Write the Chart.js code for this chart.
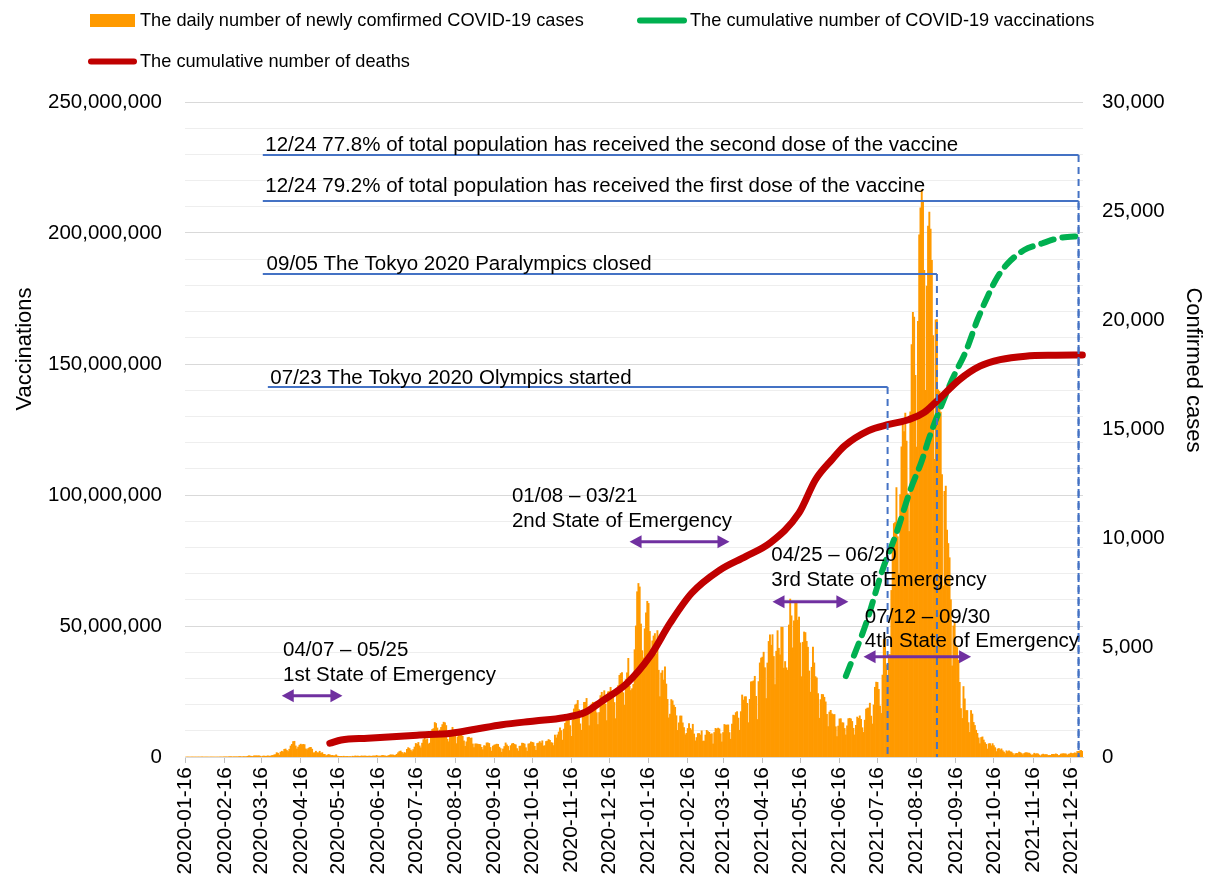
<!DOCTYPE html>
<html><head><meta charset="utf-8">
<script src="https://cdn.jsdelivr.net/npm/chart.js@4.4.0/dist/chart.umd.min.js"></script>
<style>html,body{margin:0;padding:0;background:#fff;}#wrap{position:relative;width:1207px;height:874px;}</style>
</head><body><div id="wrap"><canvas id="c" width="1207" height="874"></canvas></div>
<script>
// ---------------- DATA ----------------
const START_DATE = '2020-01-16';
const cases2020Jan = [1,0,0,0,0,0,0,1,1,0,2,1,0,4,1,2];
const cases2020Feb = [0,0,1,0,1,0,2,0,0,1,0,3,1,1,8,5,6,5,12,12,15,6,14,7,12,10,17,24,12];
const cases2020Mar = [14,21,11,20,33,56,42,35,26,52,52,55,50,59,40,15,40,44,35,39,53,39,39,66,71,96,112,200,173,88,220];
const cases2020Apr = [266,235,350,367,302,251,356,505,579,707,720,508,367,457,543,589,560,580,567,373,336,393,434,441,360,191,199,265,198,195];
const cases2020May = [263,164,202,125,123,56,87,118,97,67,75,59,55,99,45,30,30,31,23,37,23,26,28,16,21,14,38,25,48,39,45];
const cases2020Jun = [35,31,51,41,46,48,38,35,40,41,34,48,46,47,72,43,44,40,67,71,56,52,31,54,77,104,93,94,70,87];
const cases2020Jul = [124,195,250,275,210,150,207,181,355,429,390,318,251,340,458,622,590,667,510,420,634,795,981,774,831,598,635,982,1264,1302,1580];
const cases2020Aug = [1536,1331,957,1236,1356,1485,1595,1569,1442,816,698,966,1177,1361,1227,1003,611,922,1049,1165,1043,951,739,492,697,892,906,855,873,599,430];
const cases2020Sep = [602,602,587,578,572,443,337,520,504,649,646,621,437,269,502,545,567,589,585,451,387,220,369,481,645,556,485,296,522,603];
const cases2020Oct = [626,578,558,389,273,495,503,636,628,595,425,265,598,615,692,674,655,493,311,621,641,706,637,742,504,517,712,733,801,763,661];
const cases2020Nov = [643,523,1006,875,1016,1147,1331,1211,773,1278,1544,1661,1704,1736,1437,948,1694,2202,2386,2424,2592,2170,1519,1227,1939,2504,2507,2684,2056,1435];
const cases2020Dec = [2028,2432,2506,2437,2516,2030,1488,2038,2812,2965,2525,3037,2427,1667,2986,2999,3193,3000,2898,2496,1756,2981,3271,3740,3823,3867,2944,2373,3548,3857,4520];
const cases2021Jan = [3250,3048,3131,3325,4915,6004,7570,7949,7790,6093,4871,4537,5874,6598,7133,7036,5752,4925,5319,5543,5654,4717,5790,3974,2764,3846,3960,3528,4134,3343,2640];
const cases2021Feb = [1792,1964,2631,2576,2371,2279,1891,1219,1566,1879,1880,1564,1348,1020,1084,1308,1527,1310,1243,1500,1056,739,892,1073,1076,1009,1200,726];
const cases2021Mar = [730,1006,1220,1162,1131,1046,1065,599,1124,1313,1279,1324,1290,1065,692,1121,1491,1461,1462,1472,1119,815,1510,1918,1900,2035,2078,1784,1226,2078,2841];
const cases2021Apr = [2611,2761,2762,2458,1573,2643,3446,3453,3488,3697,2779,1718,3455,4310,4532,4576,4801,4091,2679,4306,5294,5600,5120,5605,4605,3313,4847,5787,4981,4680];
const cases2021May = [5947,5942,4071,4373,4086,3974,6046,7234,6467,5000,6242,7057,7057,6266,6412,5229,3680,5257,5727,5700,5300,5029,3941,2970,4110,5034,4310,3683,3625,2910,1776];
const cases2021Jun = [2630,2867,2860,2737,2525,1953,1394,2060,2138,1976,1941,1948,1387,939,1418,1746,1754,1570,1567,1309,1011,1428,1756,1774,1746,1630,1315,1012,1456,1830];
const cases2021Jul = [1772,1885,1727,1341,1128,1689,2193,2240,2247,2466,1875,1512,2385,3194,3429,3418,3099,2329,1997,3753,5384,5379,4227,3574,4686,4692,7630,9576,10693,10743,12341];
const cases2021Aug = [10089,8393,12017,14207,15263,14910,15750,14472,12069,10330,15812,18889,20365,20151,17484,14200,19955,23917,25156,25992,25492,22285,16791,21570,24316,24956,24175,22748,19297,13636,20020];
const cases2021Sep = [20031,16818,16751,15797,12938,7833,12171,12414,10393,9780,9128,7205,4172,6004,6183,5108,5014,4434,3420,2219,1767,3228,2664,2127,2131,1576,1128,2129,1969,1586];
const cases2021Oct = [1446,1227,1083,876,611,895,922,779,655,583,365,608,614,515,614,521,429,250,369,389,325,373,289,228,156,285,246,278,240,226,162];
const cases2021Nov = [86,152,167,161,225,200,161,106,164,198,198,179,178,135,77,107,174,138,154,142,92,50,106,132,106,114,106,72,80,76];
const cases2021Dec = [126,124,114,144,120,68,80,135,142,155,147,141,77,131,144,175,157,164,194,165,253,260,283,302,262];

const deathDates  = ['2020-05-09','2020-05-18','2020-06-08','2020-07-17','2020-08-13','2020-09-01','2020-09-22','2020-10-18','2020-11-10','2020-11-27','2020-12-10','2020-12-30','2021-01-17','2021-02-02','2021-02-19','2021-03-13','2021-04-03','2021-04-22','2021-05-15','2021-05-28','2021-06-10','2021-06-20','2021-07-09','2021-07-25','2021-08-10','2021-08-22','2021-09-01','2021-09-19','2021-10-05','2021-10-21','2021-11-10','2021-12-04','2021-12-25'];
const deathValues = [630,780,860,1000,1090,1270,1480,1650,1800,2050,2550,3380,4600,6130,7500,8550,9190,9800,11180,12700,13620,14250,14950,15230,15460,15780,16300,17290,17900,18200,18360,18400,18410];

const vaccDates  = ['2021-06-21','2021-06-26','2021-07-07','2021-07-20','2021-07-31','2021-08-11','2021-08-20','2021-08-26','2021-09-02','2021-09-13','2021-09-24','2021-10-03','2021-10-11','2021-10-19','2021-10-27','2021-11-09','2021-11-23','2021-12-06','2021-12-25'];
const vaccValues = [30.9e6,37e6,51e6,71.4e6,85.5e6,101.9e6,113e6,122e6,131e6,144e6,155e6,166.8e6,175.7e6,183.3e6,188.4e6,193.5e6,196e6,198e6,198.9e6];

const leftAxisMax = 250000000, leftGridStep = 10000000, leftLabelStep = 50000000;
const rightAxisMax = 30000, rightLabelStep = 5000;

// annotations (dates on x axis, values on the left axis)
const milestoneNotes = [
  {text:'12/24 77.8% of total population has received the second dose of the vaccine', textDate:'2020-03-19', textValue:233.6e6, fromDate:'2020-03-17', toDate:'2021-12-22', value:229.8e6},
  {text:'12/24 79.2% of total population has received the first dose of the vaccine', textDate:'2020-03-19', textValue:217.8e6, fromDate:'2020-03-17', toDate:'2021-12-22', value:212.2e6},
  {text:'09/05 The Tokyo 2020 Paralympics closed', textDate:'2020-03-20', textValue:188.2e6, fromDate:'2020-03-17', toDate:'2021-09-01', value:184.35e6},
  {text:'07/23 The Tokyo 2020 Olympics started', textDate:'2020-03-23', textValue:144.7e6, fromDate:'2020-03-21', toDate:'2021-07-24', value:141.2e6}
];
const emergencyNotes = [
  {lines:['04/07 \u2013 05/25','1st State of Emergency'], textDate:'2020-04-02', textValues:[40.84e6,31.3e6], fromDate:'2020-04-01', toDate:'2020-05-19', value:23.4e6},
  {lines:['01/08 \u2013 03/21','2nd State of Emergency'], textDate:'2020-09-30', textValues:[99.62e6,90.08e6], fromDate:'2021-01-01', toDate:'2021-03-21', value:82.18e6},
  {lines:['04/25 \u2013 06/20','3rd State of Emergency'], textDate:'2021-04-23', textValues:[77.1e6,67.56e6], fromDate:'2021-04-24', toDate:'2021-06-23', value:59.27e6},
  {lines:['07/12 \u2013 09/30','4th State of Emergency'], textDate:'2021-07-06', textValues:[53.32e6,44.01e6], fromDate:'2021-07-05', toDate:'2021-09-28', value:38.28e6}
];

// ---------------- BUILD ----------------
const dailyCases = [].concat(cases2020Jan,cases2020Feb,cases2020Mar,cases2020Apr,cases2020May,cases2020Jun,cases2020Jul,cases2020Aug,cases2020Sep,cases2020Oct,cases2020Nov,cases2020Dec,
  cases2021Jan,cases2021Feb,cases2021Mar,cases2021Apr,cases2021May,cases2021Jun,cases2021Jul,cases2021Aug,cases2021Sep,cases2021Oct,cases2021Nov,cases2021Dec);
const dates = [];
const t0 = Date.parse(START_DATE + 'T00:00:00Z');
for (let i = 0; i < dailyCases.length; i++) dates.push(new Date(t0 + i * 86400000).toISOString().slice(0, 10));

const FONT = "'Liberation Sans', Arial, Helvetica, sans-serif";
const ORANGE = '#ff9a00', GREEN = '#00b050', RED = '#c00000', BLUE = '#4472c4', PURPLE = '#7030a0';
const fmt = v => Number(v).toLocaleString('en-US');

const overlayPlugin = {
  id: 'overlay',
  afterDatasetsDraw(chart) {
    const ctx = chart.ctx, xs = chart.scales.x, yl = chart.scales.yL;
    const px = d => xs.getPixelForValue(dates.indexOf(d));
    const py = v => yl.getPixelForValue(v);
    const y0 = py(0);
    ctx.save();
    milestoneNotes.forEach(n => {
      const x1 = px(n.fromDate), x2 = px(n.toDate), y = py(n.value);
      ctx.strokeStyle = BLUE; ctx.lineWidth = 2; ctx.setLineDash([]);
      ctx.beginPath(); ctx.moveTo(x1, y); ctx.lineTo(x2, y); ctx.stroke();
      ctx.setLineDash([7, 5]);
      ctx.beginPath(); ctx.moveTo(x2, y); ctx.lineTo(x2, y0); ctx.stroke();
    });
    ctx.setLineDash([]);
    emergencyNotes.forEach(n => {
      const x1 = px(n.fromDate), x2 = px(n.toDate), y = py(n.value);
      const L = 12, H = 6.5;
      ctx.strokeStyle = PURPLE; ctx.fillStyle = PURPLE; ctx.lineWidth = 3;
      ctx.beginPath(); ctx.moveTo(x1 + L - 1, y); ctx.lineTo(x2 - L + 1, y); ctx.stroke();
      ctx.beginPath(); ctx.moveTo(x1, y); ctx.lineTo(x1 + L, y - H); ctx.lineTo(x1 + L, y + H); ctx.closePath(); ctx.fill();
      ctx.beginPath(); ctx.moveTo(x2, y); ctx.lineTo(x2 - L, y - H); ctx.lineTo(x2 - L, y + H); ctx.closePath(); ctx.fill();
    });
    ctx.fillStyle = '#000'; ctx.font = '20.5px ' + FONT; ctx.textAlign = 'left'; ctx.textBaseline = 'middle';
    milestoneNotes.forEach(n => ctx.fillText(n.text, px(n.textDate), py(n.textValue)));
    emergencyNotes.forEach(n => n.lines.forEach((t, i) => ctx.fillText(t, px(n.textDate), py(n.textValues[i]))));
    ctx.restore();
  },
  afterDraw(chart) {
    const ctx = chart.ctx;
    ctx.save();
    ctx.font = '18.2px ' + FONT; ctx.textBaseline = 'middle'; ctx.textAlign = 'left';
    ctx.fillStyle = ORANGE; ctx.fillRect(90, 14, 45, 13);
    ctx.fillStyle = '#000'; ctx.fillText(chart.data.datasets[0].label, 140, 20.5);
    ctx.lineCap = 'round'; ctx.lineWidth = 6;
    ctx.strokeStyle = GREEN; ctx.beginPath(); ctx.moveTo(640, 20.5); ctx.lineTo(684, 20.5); ctx.stroke();
    ctx.fillText(chart.data.datasets[1].label, 690, 20.5);
    ctx.strokeStyle = RED; ctx.beginPath(); ctx.moveTo(91, 61.5); ctx.lineTo(134, 61.5); ctx.stroke();
    ctx.fillText(chart.data.datasets[2].label, 140, 61.5);
    ctx.font = '22px ' + FONT; ctx.textAlign = 'center';
    ctx.save(); ctx.translate(25, 349); ctx.rotate(-Math.PI / 2); ctx.fillText('Vaccinations', 0, 0); ctx.restore();
    ctx.save(); ctx.translate(1193, 370); ctx.rotate(Math.PI / 2); ctx.fillText('Confirmed cases', 0, 0); ctx.restore();
    ctx.restore();
  }
};

new Chart(document.getElementById('c'), {
  data: {
    labels: dates,
    datasets: [
      { type: 'bar', label: 'The daily number of newly comfirmed COVID-19 cases', data: dailyCases, yAxisID: 'yR',
        backgroundColor: ORANGE, borderWidth: 0, barPercentage: 1, categoryPercentage: 1, order: 3 },
      { type: 'line', label: 'The cumulative number of COVID-19 vaccinations', data: vaccDates.map((d, i) => ({x: d, y: vaccValues[i]})),
        yAxisID: 'yL', borderColor: GREEN, borderWidth: 6, borderDash: [13, 9], borderCapStyle: 'round', pointRadius: 0,
        tension: 0.4, cubicInterpolationMode: 'monotone', fill: false, order: 2 },
      { type: 'line', label: 'The cumulative number of deaths', data: deathDates.map((d, i) => ({x: d, y: deathValues[i]})),
        yAxisID: 'yR', borderColor: RED, borderWidth: 7, borderCapStyle: 'round', pointRadius: 0,
        tension: 0.4, cubicInterpolationMode: 'monotone', fill: false, order: 1 }
    ]
  },
  options: {
    responsive: false, animation: false, devicePixelRatio: 1,
    layout: { padding: { top: 102, left: 0, right: 0, bottom: 0 } },
    plugins: { legend: { display: false }, tooltip: { enabled: false }, title: { display: false } },
    scales: {
      x: {
        type: 'category', offset: true,
        grid: { display: true, drawOnChartArea: false, drawTicks: true, tickLength: 6, offset: false,
          color: c => (dates[c.index] && dates[c.index].endsWith('-16')) ? '#bfbfbf' : 'rgba(0,0,0,0)' },
        border: { display: true, color: '#d9d9d9', width: 1 },
        ticks: { autoSkip: false, maxRotation: 90, minRotation: 90, padding: 4, color: '#000', font: { family: FONT, size: 21 },
          callback: function (v) { const l = this.getLabelForValue(v); return l.endsWith('-16') ? l : ''; } },
        afterFit: s => { s.height = 117; }
      },
      yL: {
        type: 'linear', position: 'left', min: 0, max: leftAxisMax,
        ticks: { stepSize: leftGridStep, autoSkip: false, padding: 23, color: '#000', font: { family: FONT, size: 20.5 },
          callback: v => (v % leftLabelStep === 0 ? fmt(v) : '') },
        grid: { drawTicks: false, color: c => (c.tick && c.tick.value % leftLabelStep === 0) ? '#d9d9d9' : '#eeeeee' },
        border: { display: false },
        afterFit: s => { s.width = 185; }
      },
      yR: {
        type: 'linear', position: 'right', min: 0, max: rightAxisMax,
        ticks: { stepSize: rightLabelStep, autoSkip: false, padding: 19, color: '#000', font: { family: FONT, size: 20.5 }, callback: v => fmt(v) },
        grid: { display: false, drawTicks: false },
        border: { display: false },
        afterFit: s => { s.width = 124; }
      }
    }
  },
  plugins: [overlayPlugin]
});
</script></body></html>
